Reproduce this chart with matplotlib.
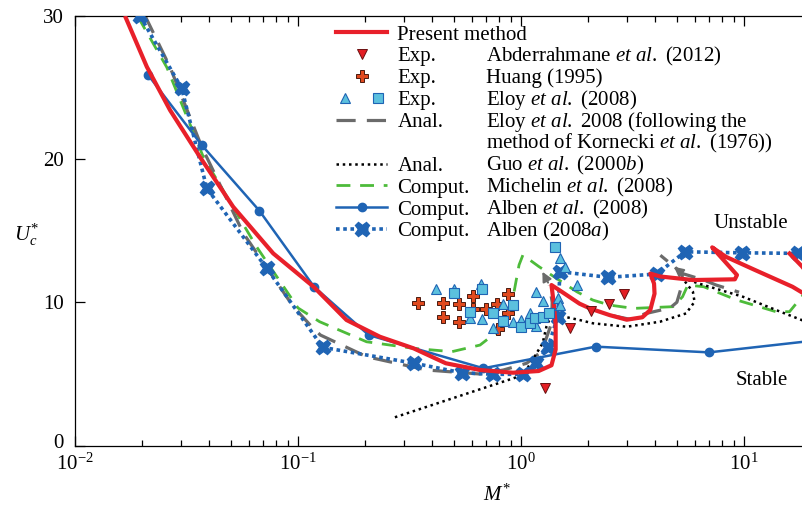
import numpy as np
import matplotlib
matplotlib.use("Agg")
import matplotlib.pyplot as plt
from matplotlib.lines import Line2D
from matplotlib.legend_handler import HandlerTuple
from matplotlib.transforms import ScaledTranslation

plt.rcParams['font.family'] = ['Liberation Serif', 'DejaVu Serif']
plt.rcParams['mathtext.fontset'] = 'custom'
plt.rcParams['mathtext.rm'] = 'Liberation Serif'
plt.rcParams['mathtext.it'] = 'Liberation Serif:italic'
plt.rcParams['font.size'] = 15

# ---- data ----
# present method (red)
red_x = [0.0169, 0.0210, 0.0267, 0.0363, 0.0512, 0.0774, 0.1175, 0.165, 0.233, 0.33, 0.46, 0.655,
         0.92, 1.2, 1.37, 1.43, 1.43, 1.40, 1.37, 1.5, 1.83, 2.05, 2.5, 2.98, 3.5, 3.8, 3.97, 3.95,
         3.8, 4.2, 5.9, 9.1, 9.3, 7.2, 8.3, 11.2, 16.5, 20.0]
red_y = [29.85, 26.43, 23.4, 20.15, 16.66, 13.41, 11.08, 8.76, 7.59, 6.78, 5.74, 5.27,
         5.08, 5.2, 5.6, 6.7, 8.5, 10.0, 11.2, 10.8, 9.9, 9.55, 9.1, 8.78, 8.95, 9.46, 10.6, 11.3,
         12.0, 11.8, 11.55, 11.6, 11.9, 13.83, 13.17, 12.25, 11.08, 10.3]
red2_x = [16.0, 18.2, 20.0]
red2_y = [13.4, 12.5, 11.7]

# Abderrahmane et al. (2012)
abd_x = [1.28, 1.66, 2.05, 2.47, 2.9]
abd_y = [4.0, 8.2, 9.4, 9.85, 10.55]

# Huang (1995)
huang_x = [0.346, 0.446, 0.528, 0.61, 0.78, 0.87, 0.446, 0.528, 0.61, 0.70, 0.87, 0.79]
huang_y = [9.92, 9.92, 9.87, 10.45, 9.9, 10.6, 8.99, 8.6, 9.55, 9.55, 9.22, 8.1]

# Eloy et al. (2008) experiments
eloy_tri_x = [0.416, 0.50, 0.66, 0.59, 0.67, 0.75, 0.83, 0.92, 1.0, 1.1, 1.17, 1.17, 1.26, 1.47,
              1.5, 1.58, 1.78, 1.5]
eloy_tri_y = [10.92, 10.92, 11.25, 8.88, 8.85, 8.18, 9.85, 8.64, 8.76, 9.27, 8.34, 10.73, 10.1,
              10.27, 13.06, 12.48, 11.2, 9.8]
eloy_sq_x = [0.50, 0.67, 0.59, 0.75, 0.92, 0.83, 1.0, 1.1, 1.16, 1.26, 1.34, 1.42]
eloy_sq_y = [10.66, 10.9, 9.3, 9.25, 9.8, 8.71, 8.25, 8.53, 8.88, 8.94, 9.22, 13.87]

# Eloy et al. 2008 analytical (Kornecki)
gray1_x = [0.0206, 0.0267, 0.037, 0.0569, 0.0953, 0.117, 0.126, 0.203, 0.378, 0.655, 0.834, 1.06,
           1.2, 1.29, 1.37, 1.38, 1.34]
gray1_y = [30.0, 26.4, 20.85, 14.81, 9.69, 8.18, 7.71, 6.2, 5.27, 4.99, 5.27, 5.74,
           6.4, 7.36, 8.53, 10.0, 11.2]
gray2_x = [2.6, 3.1, 3.6, 4.66, 5.0, 5.2, 5.3, 6.6, 7.5, 9.5]
gray2_y = [9.05, 8.8, 9.2, 9.6, 10.0, 10.9, 12.0, 11.55, 11.2, 10.7]
gray3_x = [5.3, 4.2]
gray3_y = [12.0, 13.3]

# Guo et al. (2000b)
guo_x = [0.272, 1.024, 1.25, 1.3, 1.37, 1.5, 1.83, 2.1, 2.98, 4.2, 5.5, 6.0, 5.9, 5.3, 6.6, 9.9,
         13.9, 20.0]
guo_y = [1.97, 4.92, 7.13, 8.29, 9.15, 9.05, 8.76, 8.53, 8.29, 8.64, 9.22, 10.03, 10.73, 11.67,
         11.2, 10.38, 9.46, 8.5]

# Michelin et al. (2008)
mich_x = [0.0192, 0.0258, 0.0376, 0.0652, 0.1, 0.125, 0.203, 0.33, 0.49, 0.655, 0.8, 0.92, 0.98,
          1.02, 1.2, 1.44, 1.78, 2.1, 2.5, 3.2, 4.8, 5.3, 5.6, 6.6, 9.3, 13.9, 16.0, 18.2, 20.0]
mich_y = [29.9, 26.4, 20.15, 13.87, 9.6, 8.64, 7.24, 6.78, 6.55, 7.01, 8.06, 10.3, 12.6,
          13.3, 12.5, 11.67, 10.73, 10.15, 9.8, 9.57, 9.69, 10.38, 11.2, 11.08, 10.15, 9.34, 9.34,
          10.4, 11.3]

# Alben et al. (2008)
alb_x = [0.0213, 0.037, 0.0671, 0.118, 0.2075, 0.678, 2.16, 6.97, 20.0]
alb_y = [25.85, 20.97, 16.39, 11.08, 7.71, 5.39, 6.9, 6.5, 7.3]

# Alben (2008a)
alba_x = [0.0196, 0.0301, 0.039, 0.0724, 0.129, 0.332, 0.542, 0.751, 1.024, 1.167, 1.325, 1.46,
          1.496, 2.46, 4.06, 5.44, 9.77, 17.5]
alba_y = [29.97, 24.93, 17.95, 12.37, 6.85, 5.74, 5.08, 4.97, 4.97, 5.78, 6.9, 9.0,
          12.13, 11.74, 11.97, 13.52, 13.45, 13.41]

types = ['Present method', 'Exp.', 'Exp.', 'Exp.', 'Anal.', ' ', 'Anal.', 'Comput.', 'Comput.',
         'Comput.']
refs = ['', r'Abderrahmane $\mathit{et\ al.}$ (2012)', 'Huang (1995)', r'Eloy $\mathit{et\ al.}$ (2008)',
        r'Eloy $\mathit{et\ al.}$ 2008 (following the',
        r'method of Kornecki $\mathit{et\ al.}$ (1976))',
        r'Guo $\mathit{et\ al.}$ (2000$\mathit{b}$)', r'Michelin $\mathit{et\ al.}$ (2008)',
        r'Alben $\mathit{et\ al.}$ (2008)', r'Alben (2008$\mathit{a}$)']

RED = '#e8202a'
BLUE = '#1f64b4'
GREEN = '#4dbb3a'
GRAY = '#6b6b6b'
CYAN = '#5bc0de'

fig = plt.figure(figsize=(8.02, 5.05), dpi=100)
ax = fig.add_axes([75 / 802, 1 - 445.5 / 505, 727 / 802, 429.8 / 505])

l_mich, = ax.plot(mich_x, mich_y, color=GREEN, lw=2, dashes=(5, 3.5), zorder=2)
l_gray, = ax.plot(gray1_x, gray1_y, color=GRAY, lw=2.3, dashes=(6, 3.5), zorder=2.2)
ax.plot(gray2_x, gray2_y, color=GRAY, lw=2.3, dashes=(6, 3.5), zorder=2.2)
ax.plot(gray3_x, gray3_y, color=GRAY, lw=2.3, dashes=(3, 3), zorder=2.2)
ax.annotate('', xy=(1.23, 12.3), xytext=(1.34, 11.2),
            arrowprops=dict(arrowstyle='-|>', color=GRAY, lw=1.5, mutation_scale=14), zorder=2.2)
ax.annotate('', xy=(4.74, 12.6), xytext=(5.1, 12.2),
            arrowprops=dict(arrowstyle='-|>', color=GRAY, lw=1.5, mutation_scale=14), zorder=2.2)
l_guo, = ax.plot(guo_x, guo_y, color='black', lw=1.8, ls=(0, (1, 1.5)), zorder=2.3)
l_alb, = ax.plot(alb_x, alb_y, color=BLUE, lw=1.8, marker='o', ms=6, zorder=2.5)
l_alba, = ax.plot(alba_x, alba_y, color=BLUE, lw=2.6, ls=(0, (1, 1)), marker='X', ms=10.5,
                  mec=BLUE, mfc=BLUE, zorder=2.6)
l_red, = ax.plot(red_x, red_y, color=RED, lw=3, solid_joinstyle='round', zorder=3)
ax.plot(red2_x, red2_y, color=RED, lw=3, solid_joinstyle='round', zorder=3)

l_abd, = ax.plot(abd_x, abd_y, ls='none', marker='v', ms=7, mfc='#e31e24', mec='#6a1010',
                 mew=0.7, zorder=4)
l_huang, = ax.plot(huang_x, huang_y, ls='none', marker='P', ms=8.5, mfc='#e04a1f', mec='#4a1a10',
                   mew=0.7, zorder=4)
l_tri, = ax.plot(eloy_tri_x, eloy_tri_y, ls='none', marker='^', ms=7.5, mfc=CYAN, mec=BLUE,
                 mew=0.8, zorder=4)
l_sq, = ax.plot(eloy_sq_x, eloy_sq_y, ls='none', marker='s', ms=6.5, mfc=CYAN, mec=BLUE,
                mew=0.8, zorder=4)

ax.text(10.7, 15.5, 'Unstable', ha='center', va='center')
ax.text(12.05, 4.57, 'Stable', ha='center', va='center')

ax.set_xscale('log')
ax.set_xlim(0.01, 18.2)
ax.set_ylim(0, 30)
ax.set_yticks([0, 10, 20, 30])
ax.spines['right'].set_visible(False)
for s in ['left', 'top', 'bottom']:
    ax.spines[s].set_linewidth(0.9)
ax.tick_params(which='both', direction='in', top=True, right=False, width=0.9)
ax.tick_params(which='major', length=7)
ax.tick_params(which='minor', length=4)
ax.tick_params(axis='y', pad=8)
ax.tick_params(axis='x', pad=6)

ax.set_xlabel(r'$M^{*}$')
ax.xaxis.set_label_coords(0.58, -0.092)
ax.set_ylabel(r'$U_c^{*}$', rotation=0, va='center', ha='center')
ax.yaxis.set_label_coords(-0.066, 0.49)

blank = Line2D([], [], alpha=0)
handles = [l_red, l_abd, l_huang, (l_tri, l_sq), l_gray, blank, l_guo, l_mich, l_alb, l_alba]
leg = ax.legend(handles, types, loc='upper left', bbox_to_anchor=(336 / 802, 1 - 25 / 505),
                bbox_transform=fig.transFigure, frameon=False, borderpad=0, borderaxespad=0,
                handlelength=2.45, handletextpad=0.5, labelspacing=0.11, numpoints=1,
                handler_map={tuple: HandlerTuple(ndivide=None, pad=0.8)})

# the "0" label sits a little higher than its tick in the original
fig.canvas.draw()
zero = ax.get_yticklabels()[0]
zero.set_transform(zero.get_transform() + ScaledTranslation(0, 0.05, fig.dpi_scale_trans))

# second column of the legend, aligned on the baselines of the first
for t, ref in zip(leg.get_texts(), refs):
    if ref == '':
        continue
    x, y = t.get_transform().transform(t.get_position())
    fx, fy = fig.transFigure.inverted().transform((486, y))
    fig.text(fx, fy, ref, va='baseline', ha='left')

fig.savefig('out.png', dpi=100)
